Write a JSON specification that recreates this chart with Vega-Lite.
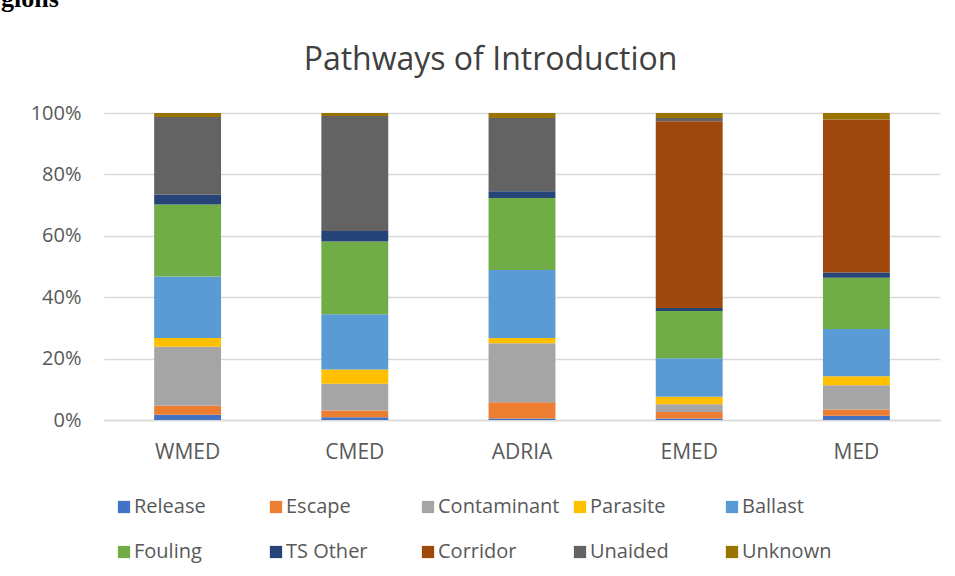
{
  "$schema": "https://vega.github.io/schema/vega-lite/v6.json",
  "autosize": {"type": "none"},
  "width": 836,
  "height": 307,
  "padding": {"left": 104, "top": 113, "right": 15, "bottom": 156},
  "background": "white",
  "title": {
    "text": "gions",
    "font": "Liberation Serif",
    "fontSize": 26,
    "fontWeight": "bold",
    "color": "#000000",
    "anchor": "start",
    "frame": "group",
    "dx": -103,
    "baseline": "alphabetic",
    "offset": 10
  },
  "datasets": {
    "pathways": [
      {"pathway": "Release", "rank": 1},
      {"pathway": "Escape", "rank": 2},
      {"pathway": "Contaminant", "rank": 3},
      {"pathway": "Parasite", "rank": 4},
      {"pathway": "Ballast", "rank": 5},
      {"pathway": "Fouling", "rank": 6},
      {"pathway": "TS Other", "rank": 7},
      {"pathway": "Corridor", "rank": 8},
      {"pathway": "Unaided", "rank": 9},
      {"pathway": "Unknown", "rank": 10}
    ],
    "shares": [
      {"region": "WMED", "pathway": "Release", "pct": 1.7},
      {"region": "WMED", "pathway": "Escape", "pct": 2.9},
      {"region": "WMED", "pathway": "Contaminant", "pct": 19.2},
      {"region": "WMED", "pathway": "Parasite", "pct": 2.9},
      {"region": "WMED", "pathway": "Ballast", "pct": 20.0},
      {"region": "WMED", "pathway": "Fouling", "pct": 23.4},
      {"region": "WMED", "pathway": "TS Other", "pct": 3.3},
      {"region": "WMED", "pathway": "Corridor", "pct": 0},
      {"region": "WMED", "pathway": "Unaided", "pct": 25.2},
      {"region": "WMED", "pathway": "Unknown", "pct": 1.3},
      {"region": "CMED", "pathway": "Release", "pct": 0.9},
      {"region": "CMED", "pathway": "Escape", "pct": 2.2},
      {"region": "CMED", "pathway": "Contaminant", "pct": 8.7},
      {"region": "CMED", "pathway": "Parasite", "pct": 4.7},
      {"region": "CMED", "pathway": "Ballast", "pct": 18.0},
      {"region": "CMED", "pathway": "Fouling", "pct": 23.7},
      {"region": "CMED", "pathway": "TS Other", "pct": 3.4},
      {"region": "CMED", "pathway": "Corridor", "pct": 0},
      {"region": "CMED", "pathway": "Unaided", "pct": 37.5},
      {"region": "CMED", "pathway": "Unknown", "pct": 1.0},
      {"region": "ADRIA", "pathway": "Release", "pct": 0.5},
      {"region": "ADRIA", "pathway": "Escape", "pct": 5.3},
      {"region": "ADRIA", "pathway": "Contaminant", "pct": 19.2},
      {"region": "ADRIA", "pathway": "Parasite", "pct": 1.7},
      {"region": "ADRIA", "pathway": "Ballast", "pct": 22.1},
      {"region": "ADRIA", "pathway": "Fouling", "pct": 23.4},
      {"region": "ADRIA", "pathway": "TS Other", "pct": 2.2},
      {"region": "ADRIA", "pathway": "Corridor", "pct": 0},
      {"region": "ADRIA", "pathway": "Unaided", "pct": 23.9},
      {"region": "ADRIA", "pathway": "Unknown", "pct": 1.6},
      {"region": "EMED", "pathway": "Release", "pct": 0.5},
      {"region": "EMED", "pathway": "Escape", "pct": 2.1},
      {"region": "EMED", "pathway": "Contaminant", "pct": 2.5},
      {"region": "EMED", "pathway": "Parasite", "pct": 2.5},
      {"region": "EMED", "pathway": "Ballast", "pct": 12.5},
      {"region": "EMED", "pathway": "Fouling", "pct": 15.4},
      {"region": "EMED", "pathway": "TS Other", "pct": 1.0},
      {"region": "EMED", "pathway": "Corridor", "pct": 60.8},
      {"region": "EMED", "pathway": "Unaided", "pct": 1.1},
      {"region": "EMED", "pathway": "Unknown", "pct": 1.6},
      {"region": "MED", "pathway": "Release", "pct": 1.4},
      {"region": "MED", "pathway": "Escape", "pct": 2.0},
      {"region": "MED", "pathway": "Contaminant", "pct": 7.9},
      {"region": "MED", "pathway": "Parasite", "pct": 2.9},
      {"region": "MED", "pathway": "Ballast", "pct": 15.4},
      {"region": "MED", "pathway": "Fouling", "pct": 16.7},
      {"region": "MED", "pathway": "TS Other", "pct": 1.7},
      {"region": "MED", "pathway": "Corridor", "pct": 49.8},
      {"region": "MED", "pathway": "Unaided", "pct": 0},
      {"region": "MED", "pathway": "Unknown", "pct": 2.1}
    ]
  },
  "data": {"name": "shares"},
  "transform": [
    {"lookup": "pathway", "from": {"data": {"name": "pathways"}, "key": "pathway", "fields": ["rank"]}}
  ],
  "mark": {"type": "bar"},
  "encoding": {
    "x": {
      "field": "region",
      "type": "nominal",
      "sort": ["WMED", "CMED", "ADRIA", "EMED", "MED"],
      "scale": {"paddingInner": 0.6, "paddingOuter": 0.3},
      "axis": {
        "title": null,
        "labelAngle": 0,
        "labelFont": "Open Sans",
        "labelFontSize": 21,
        "labelColor": "#595959",
        "labelPadding": 21,
        "ticks": false,
        "domainColor": "#d9d9d9",
        "domainWidth": 1.5
      }
    },
    "y": {
      "field": "pct",
      "type": "quantitative",
      "stack": "normalize",
      "scale": {"domain": [0, 1]},
      "axis": {
        "title": "Pathways of Introduction",
        "titleX": 386,
        "titleY": -44,
        "titleAngle": 0,
        "titleAlign": "center",
        "titleAnchor": null,
        "titleBaseline": "alphabetic",
        "titleFont": "Open Sans",
        "titleFontSize": 32,
        "titleFontWeight": "normal",
        "titleColor": "#404040",
        "format": ".0%",
        "values": [0, 0.2, 0.4, 0.6, 0.8, 1],
        "labelFont": "Open Sans",
        "labelFontSize": 20,
        "labelColor": "#595959",
        "labelPadding": 23,
        "ticks": false,
        "domain": false,
        "gridColor": "#d9d9d9",
        "gridWidth": 1.5
      }
    },
    "order": {"field": "rank", "type": "quantitative", "sort": "ascending"},
    "color": {
      "field": "pathway",
      "type": "nominal",
      "scale": {
        "domain": ["Release", "Escape", "Contaminant", "Parasite", "Ballast", "Fouling", "TS Other", "Corridor", "Unaided", "Unknown"],
        "range": ["#4472C4", "#ED7D31", "#A5A5A5", "#FFC000", "#5B9BD5", "#70AD47", "#264478", "#9E480E", "#636363", "#997300"]
      },
      "legend": {
        "title": null,
        "orient": "none",
        "legendX": 10,
        "legendY": 384,
        "direction": "horizontal",
        "columns": 5,
        "gridAlign": "all",
        "columnPadding": 10,
        "rowPadding": 25,
        "symbolType": "square",
        "symbolSize": 150,
        "symbolStrokeWidth": 0,
        "labelFont": "Open Sans",
        "labelFontSize": 20,
        "labelColor": "#595959",
        "labelOffset": 0,
        "labelLimit": 300
      }
    }
  },
  "config": {"view": {"stroke": null}}
}
